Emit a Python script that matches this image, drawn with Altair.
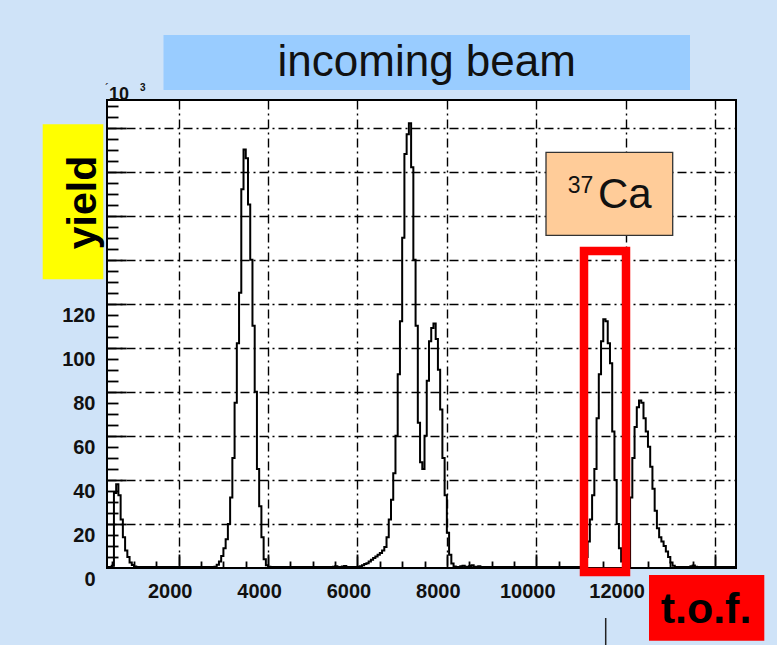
import altair as alt
import pandas as pd

# ---------------- data ----------------
BIN_START = 400      # t.o.f. of first bin
BIN_WIDTH = 50       # bin width in t.o.f. units

# yield per bin (x10^3), bins from 400 to 14500
counts = [
    0.5, 0.5, 1, 34, 38, 33, 22, 14, 8, 5, 2.5, 1.4, 0.7, 0.5, 0.4, 0.4, 0.5, 0.4, 0.4, 0.4,
    0.4, 0.4, 0.5, 0.4, 0.4, 0.4, 0.4, 0.5, 0.4, 0.4, 0.4, 0.4, 0.4, 0.4, 0.5, 0.4, 0.4, 0.4, 0.4, 0.4,
    0.4, 0.4, 0.4, 0.4, 0.4, 0.4, 0.5, 0.5, 0.6, 1.5, 3, 5.5, 9, 13, 20, 32, 50, 75, 102, 125,
    172, 190, 186, 165, 140, 110, 80, 45, 28, 14, 4, 1.2, 0.6, 0.5, 0.4, 0.4, 0.4, 0.4, 0.4, 0.4,
    0.4, 0.4, 0.4, 0.5, 0.4, 0.4, 0.4, 0.4, 0.4, 0.4, 0.4, 0.4, 0.5, 0.4, 0.4, 0.4, 0.4, 0.4, 0.4, 0.4,
    0.4, 0.6, 0.8, 0.5, 0.4, 0.7, 0.9, 0.5, 0.4, 0.4, 0.4, 0.5, 0.6, 0.8, 1.2, 1.8, 2.2, 3, 3.8, 4.5,
    5.2, 6, 6.8, 8, 9.5, 14, 22, 31, 43, 60, 88, 112, 150, 188, 197, 202, 182, 140, 110, 66,
    48, 45, 60, 85, 103, 109, 111, 104, 90, 72, 50, 33, 16, 6, 2, 0.7, 0.5, 0.5, 0.8, 1,
    0.6, 0.5, 0.9, 1.2, 0.6, 0.5, 0.8, 0.5, 0.4, 0.4, 0.4, 0.4, 0.4, 0.4, 0.4, 0.4, 0.4, 0.4, 0.4, 0.4,
    0.4, 0.4, 0.4, 0.4, 0.4, 0.4, 0.4, 0.4, 0.4, 0.4, 0.4, 0.4, 0.4, 0.4, 0.4, 0.4, 0.4, 0.4, 0.4, 0.4,
    0.4, 0.4, 0.4, 0.4, 0.4, 0.4, 0.4, 0.4, 0.4, 0.4, 0.4, 0.4, 0.8, 2, 5, 12, 22, 33, 45, 68,
    88, 103, 113, 112, 102, 93, 62, 40, 20, 9, 3, 1, 0.5, 0.6, 32, 50, 64, 73, 76, 75,
    68, 62, 55, 46, 36, 26, 18, 14, 12, 10, 7.5, 5, 2.5, 1, 0.5, 0.4, 0.4, 0.4, 0.4, 0.4,
    0.4, 0.8, 1.1, 0.6, 0.4, 0.4, 0.4, 0.4, 0.4, 0.4, 0.4, 0.4, 0.4, 0.4, 0.4, 0.4, 0.4, 0.4, 0.4, 0.4,
    0.4, 0.4,
]

x_domain = [395, 14470]
y_domain = [0, 212.5]
x_major = [2000, 4000, 6000, 8000, 10000, 12000, 14000]
x_minor = [v for v in range(500, 14500, 500) if v % 2000 != 0]
x_labels = [2000, 4000, 6000, 8000, 10000, 12000]
y_major = [20, 40, 60, 80, 100, 120, 140, 160, 180, 200]
y_minor = [v for v in range(5, 212, 5) if v % 20 != 0]
y_labels = [0, 20, 40, 60, 80, 100, 120]

edges = [BIN_START + BIN_WIDTH * i for i in range(len(counts) + 1)]
hist = pd.DataFrame({"tof": edges, "yield": counts + [counts[-1]]})

FONT = "Liberation Sans"
xs = alt.Scale(domain=x_domain, nice=False, zero=False)
ys = alt.Scale(domain=y_domain, nice=False, zero=False)


def hist_layer(ax, ay, opacity):
    return alt.Chart(hist).mark_line(
        interpolate="step-after", color="black", strokeWidth=2,
        clip=True, opacity=opacity
    ).encode(
        x=alt.X("tof:Q", scale=xs, axis=ax),
        y=alt.Y("yield:Q", scale=ys, axis=ay),
    )


GRID_DASH = [9, 4, 2, 4]
grid_x = alt.Axis(orient="bottom", values=x_major, grid=True, gridColor="black",
                  gridDash=GRID_DASH, gridWidth=1.4, labels=False, ticks=False,
                  domain=False, title=None)
grid_y = alt.Axis(orient="left", values=y_major, grid=True, gridColor="black",
                  gridDash=GRID_DASH, gridWidth=1.4, labels=False, ticks=False,
                  domain=False, title=None)
tick_x = alt.Axis(orient="bottom", values=x_major, grid=False, labels=False,
                  ticks=True, tickSize=14, tickWidth=1.8, tickColor="black",
                  offset=-14, domain=False, title=None)
tick_y = alt.Axis(orient="left", values=y_major, grid=False, labels=False,
                  ticks=True, tickSize=19, tickWidth=1.8, tickColor="black",
                  offset=-19, domain=False, title=None)
minor_x = alt.Axis(orient="bottom", values=x_minor, grid=False, labels=False,
                   ticks=True, tickSize=7, tickWidth=1.8, tickColor="black",
                   offset=-7, domain=False, title=None)
minor_y = alt.Axis(orient="left", values=y_minor, grid=False, labels=False,
                   ticks=True, tickSize=11, tickWidth=1.8, tickColor="black",
                   offset=-11, domain=False, title=None)
label_x = alt.Axis(orient="bottom", values=x_labels, grid=False, ticks=False,
                   domain=False, labels=True, labelFont=FONT, labelFontSize=20,
                   labelFontWeight="bold", labelColor="#111", labelOffset=-9,
                   labelPadding=13, labelFlush=False, labelOverlap=False,
                   format="d", title=None)
label_y = alt.Axis(orient="left", values=y_labels, grid=False, ticks=False,
                   domain=False, labels=True, labelFont=FONT, labelFontSize=20,
                   labelFontWeight="bold", labelColor="#111", labelOffset=11.5,
                   labelPadding=12, labelFlush=False, labelOverlap=False,
                   format="d", title=None)

main = hist_layer(grid_x, grid_y, 1)
ticks_major = hist_layer(tick_x, tick_y, 0)
ticks_minor = hist_layer(minor_x, minor_y, 0)
labels = hist_layer(label_x, label_y, 0)

one = pd.DataFrame({"k": [0]})


def box(x, x2, y, y2, **kw):
    return alt.Chart(one).mark_rect(**kw).encode(
        x=alt.value(x), x2=alt.value(x2), y=alt.value(y), y2=alt.value(y2))


def txt(s, x, y, **kw):
    return alt.Chart(one).mark_text(text=s, **kw).encode(
        x=alt.value(x), y=alt.value(y))


title_box = box(56.5, 583, -65, -10, color="#99ccff")
title_txt = txt("incoming beam", 319.75, -37.5, font=FONT, fontSize=44,
                align="center", baseline="middle", color="#111")
yield_box = box(-64.3, -3.7, 24.3, 179.3, color="#ffff00")
yield_txt = txt("yield", -23, 102.5, font=FONT, fontSize=41, fontWeight="bold",
                angle=270, align="center", baseline="middle", color="#000")
ca_box = box(439, 565.7, 52.3, 135.3, color="#ffcc99", stroke="#333",
             strokeWidth=1.3)
ca_sup = txt("37", 460.7, 92.7, font=FONT, fontSize=23, align="left",
             baseline="alphabetic", color="#111")
ca_txt = txt("Ca", 491, 108.3, font=FONT, fontSize=42, align="left",
             baseline="alphabetic", color="#111")
red_box = box(477, 519, 151, 472, filled=False, stroke="#ff0000",
              strokeWidth=8.5)
tof_box = box(542, 657.3, 475, 540.7, color="#ff0000")
tof_txt = txt("t.o.f.", 599, 523.3, font=FONT, fontSize=43, fontWeight="bold",
              align="center", baseline="alphabetic", color="#000")
pointer = alt.Chart(one).mark_rule(color="#222", strokeWidth=1.5).encode(
    x=alt.value(498.7), y=alt.value(518), y2=alt.value(545))
exp_txt = txt("10", 2, 0, font=FONT, fontSize=18, fontWeight="bold",
              align="left", baseline="alphabetic", color="#111")
exp_sup = txt("3", 33, -9, font=FONT, fontSize=10, fontWeight="bold",
              align="left", baseline="alphabetic", color="#111")
exp_mark = txt("´", -2, -7, font=FONT, fontSize=12, align="left",
               baseline="alphabetic", color="#111")

chart = alt.layer(
    main, ticks_major, ticks_minor, labels,
    title_box, title_txt, yield_box, yield_txt, ca_box, ca_sup, ca_txt,
    red_box, tof_box, tof_txt, pointer, exp_txt, exp_sup, exp_mark,
).resolve_axis(x="independent", y="independent").properties(
    width=629, height=468, autosize="none",
    padding={"left": 107, "top": 100, "right": 41, "bottom": 77},
    background="#cfe3f8",
).configure_view(fill="white", stroke="black", strokeWidth=2)

chart.save("out.html", embed_options={"renderer": "svg", "actions": False})
